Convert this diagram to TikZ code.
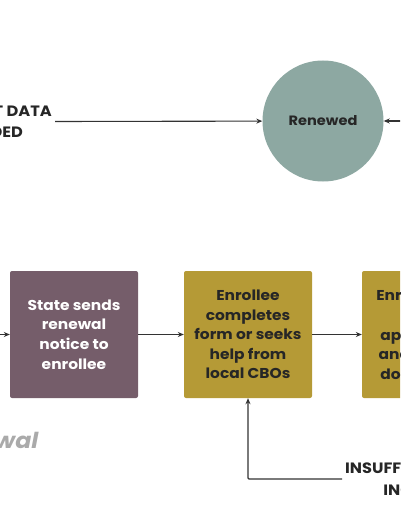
\documentclass[tikz,border=0pt]{standalone}
\usepackage{fontspec}
\setmainfont{Poppins}[FakeStretch=1.08]
\usetikzlibrary{arrows.meta}

\definecolor{renewgray}{HTML}{8DA8A2}
\definecolor{noticepurple}{HTML}{755D6A}
\definecolor{stepolive}{HTML}{B59A36}
\definecolor{linegray}{HTML}{333333}
\definecolor{titlegray}{HTML}{AAAAAA}

\tikzset{
  flow/.style={draw=linegray, line width=1.1pt, -{Stealth[length=6pt,width=5pt]}},
  stepbox/.style={rounded corners=2pt, minimum width=128pt, minimum height=127pt,
    align=center, font=\bfseries\fontsize{14.3}{19.6}\selectfont, inner sep=0pt},
  caption/.style={align=center, font=\bfseries\fontsize{15}{21.5}\selectfont, text=black!85}
}

\begin{document}
\begin{tikzpicture}[x=1pt, y=-1pt]
    \useasboundingbox (0,0) rectangle (400,516);
    \clip (0,0) rectangle (400,516);
    % top row
    \node[circle, fill=renewgray, minimum size=121pt, font=\bfseries\fontsize{13.5}{16}\selectfont, text=black!85] (renewed) at (323,121) {Renewed};
    \node[caption, anchor=east, inner sep=3pt] (datarecv) at (55,121.5) {SUFFICIENT DATA\\PROVIDED};
    \coordinate (rightin) at (402,121);
    \draw[flow] (datarecv.east) -- (renewed);
    \draw[flow] (rightin) -- (renewed);
    % bottom row
    \node[stepbox, fill=noticepurple, text=white] (notice) at (74,334.5) {State sends\\renewal\\notice to\\enrollee};
    \node[stepbox, fill=stepolive, text=black!85] (complete) at (248,334.5) {Enrollee\\completes\\form or seeks\\help from\\local CBOs};
    \node[stepbox, fill=stepolive, text=black!85] (submit) at (426,334.5) {Enrollee files\\the\\application\\and income\\documents};
    \coordinate (leftin) at (-2,334.5);
    \draw[flow] (leftin) -- (notice);
    \draw[flow] (notice) -- (complete);
    \draw[flow] (complete) -- (submit);
    % title and loop back
    \node[anchor=east, text=titlegray, font=\bfseries\itshape\fontsize{22}{26}\selectfont] (title) at (42,440) {Renewal};
    \node[caption, anchor=west, inner sep=3pt] (insuff) at (342,479) {INSUFFICIENT DATA\\INCLUDED};
    \draw[flow, rounded corners=1pt] (insuff.west) -- (248,479) -- (complete.south);
\end{tikzpicture}
\end{document}
